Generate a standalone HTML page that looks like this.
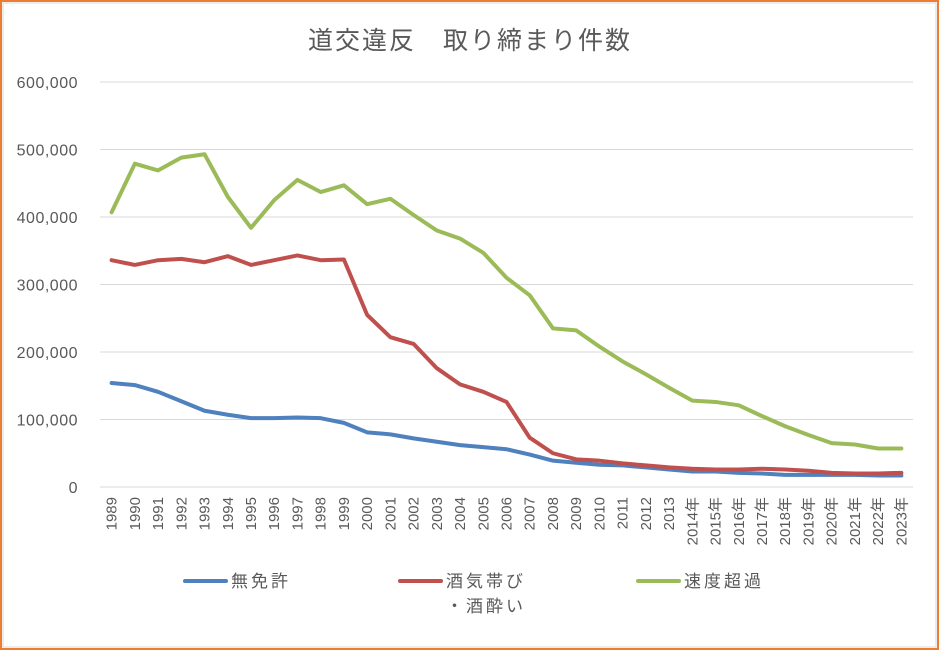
<!DOCTYPE html>
<html><head><meta charset="utf-8">
<style>
html,body{margin:0;padding:0;background:#fff;}
svg{display:block;font-family:"Liberation Sans","Noto Sans CJK JP",sans-serif;}
</style></head>
<body>
<svg id="chart" width="940" height="651">
<rect x="1" y="1" width="937" height="648" fill="#fff" stroke="#ED7D31" stroke-width="2"/>
<rect x="3" y="3" width="933" height="644" fill="none" stroke="#d9d9d9" stroke-width="1"/>
<text x="470" y="49" text-anchor="middle" font-size="25" letter-spacing="2" fill="#595959">道交違反　取り締まり件数</text>
<g id="grid"></g><g id="xlabels"></g><g id="series"></g>
<g>
<line x1="185" y1="581" x2="226" y2="581" stroke="#4E81BD" stroke-width="4" stroke-linecap="round"/>
<text x="231" y="587" font-size="17" letter-spacing="3" fill="#595959">無免許</text>
<line x1="400" y1="581" x2="441" y2="581" stroke="#C0504D" stroke-width="4" stroke-linecap="round"/>
<text x="446" y="587" font-size="17" letter-spacing="3" fill="#595959">酒気帯び</text>
<text x="446" y="612" font-size="17" letter-spacing="3" fill="#595959">・酒酔い</text>
<line x1="638" y1="581" x2="679" y2="581" stroke="#9BBB59" stroke-width="4" stroke-linecap="round"/>
<text x="684" y="587" font-size="17" letter-spacing="3" fill="#595959">速度超過</text>
</g>
</svg>
<script>
const years=["1989","1990","1991","1992","1993","1994","1995","1996","1997","1998","1999","2000","2001","2002","2003","2004","2005","2006","2007","2008","2009","2010","2011","2012","2013","2014年","2015年","2016年","2017年","2018年","2019年","2020年","2021年","2022年","2023年"];
const mumenkyo=[154,151,141,127,113,107,102,102,103,102,95,81,78,72,67,62,59,56,48,39,36,33,32,29,26,23,23,21,20,18,18,18,18,17,17].map(v=>v*1000);
const shuki=[336,329,336,338,333,342,329,336,343,336,337,255,222,212,176,152,141,126,73,50,41,39,35,32,29,27,26,26,27,26,24,21,20,20,21].map(v=>v*1000);
const sokudo=[407,479,469,488,493,430,384,425,455,437,447,419,427,403,380,368,347,310,284,235,232,208,186,167,147,128,126,121,105,90,77,65,63,57,57].map(v=>v*1000);
const yTicks=[0,100000,200000,300000,400000,500000,600000];
const NS="http://www.w3.org/2000/svg";
const x0=100,x1=913,y0=487,y1=82;
const xs=i=>x0+(x1-x0)*(i+0.5)/years.length;
const ys=v=>y0-(y0-y1)*v/600000;
function mk(t,a,p){const e=document.createElementNS(NS,t);for(const k in a)e.setAttribute(k,a[k]);p.appendChild(e);return e;}
const grid=document.getElementById('grid');
yTicks.forEach(t=>{
 const l=mk('line',{x1:x0,x2:x1,y1:ys(t),y2:ys(t),stroke:'#d9d9d9','stroke-width':1},grid);
 
 
 const tx=mk('text',{x:78,y:ys(t)+6,'text-anchor':'end','font-size':16,'letter-spacing':0.5,fill:'#595959'},grid);
 tx.textContent=t.toLocaleString('en-US');
 
 
});
const xl=document.getElementById('xlabels');
years.forEach((y,i)=>{
 const t=mk('text',{x:0,y:0,'text-anchor':'end','font-size':15,fill:'#595959',transform:`translate(${xs(i)+5},497) rotate(-90)`},xl);
 t.textContent=y;
 
 
});
const sg=document.getElementById('series');
[[mumenkyo,'#4E81BD','series-mumenkyo'],[shuki,'#C0504D','series-shukiobi'],[sokudo,'#9BBB59','series-sokudo']].forEach(([d,c,n])=>{
 const p=mk('polyline',{points:d.map((v,i)=>xs(i)+','+ys(v)).join(' '),fill:'none',stroke:c,'stroke-width':4,'stroke-linejoin':'round','stroke-linecap':'round'},sg);
 
 
});
</script>
</body></html>
